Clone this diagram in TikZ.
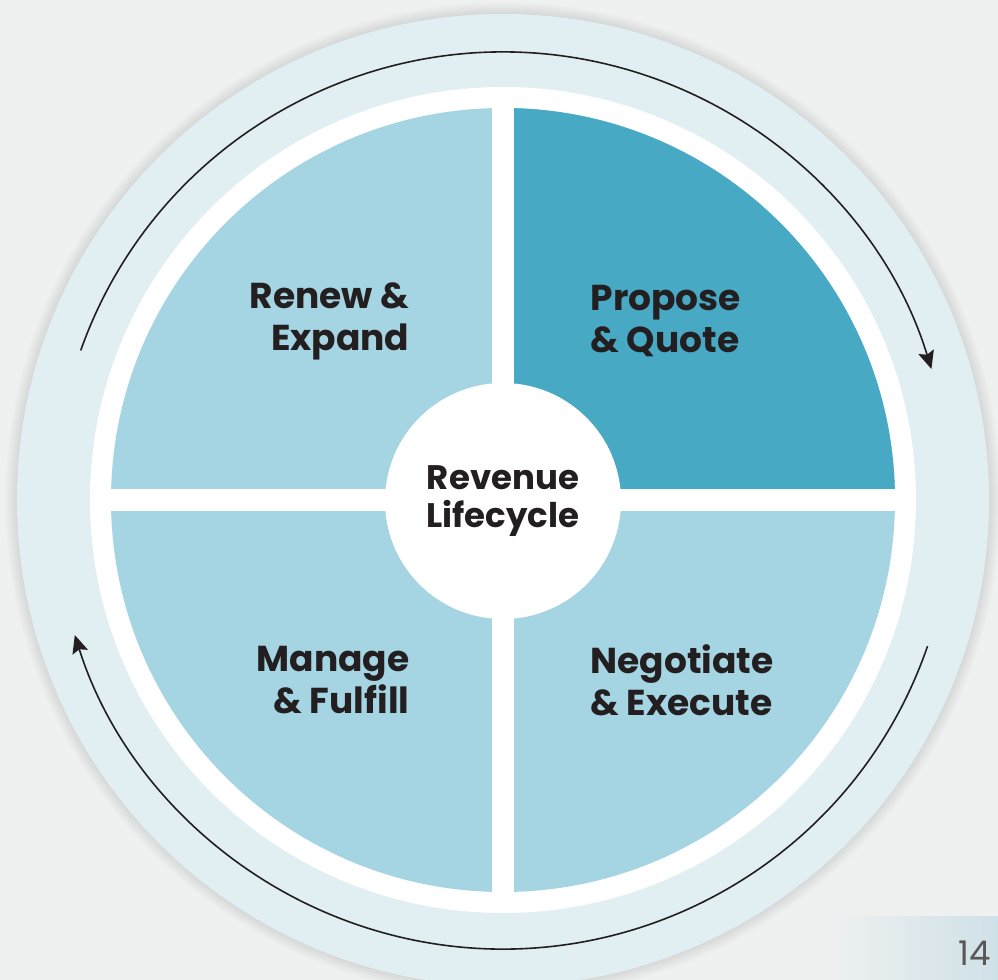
\documentclass[tikz,border=0pt]{standalone}
\usepackage{fontspec}
\setmainfont{Poppins}
\usetikzlibrary{arrows.meta,positioning}

\definecolor{pagegray}{HTML}{EFF1F0}
\definecolor{ringblue}{HTML}{E1EFF3}
\definecolor{paleblue}{HTML}{A5D4E2}
\definecolor{deepblue}{HTML}{48A9C5}
\definecolor{inkdark}{HTML}{231F20}
\definecolor{tabblue}{HTML}{CFE1E8}

\begin{document}
\begin{tikzpicture}[x=0.5pt,y=0.5pt,>={Stealth[length=9pt,width=8pt,inset=1.5pt]},semithick]
  \tikzstyle{stage}=[font=\bfseries\fontsize{18}{21}\selectfont,text=inkdark,inner sep=0pt]
  \tikzstyle{cycle arrow}=[->,line width=0.8pt,draw=inkdark]

  % Page
  \fill[pagegray] (-503,-480) rectangle (495,500);
  \useasboundingbox (-503,-480) rectangle (495,500);
  \shade[left color=pagegray,right color=tabblue] (323,-417) rectangle (495,-480);
  \node[anchor=north west,inner sep=0pt,text=inkdark!75,font=\fontsize{17}{17}\selectfont] (pageno) at (455,-440) {14};

  % Rings
  \foreach \r in {1,...,12}
    \fill[black,opacity=0.008] (0,0) circle[radius=486+\r];
  \fill[ringblue] (0,0) circle[radius=486];
  \fill[white] (0,0) circle[radius=413];
  \fill[paleblue] (0,0) circle[radius=392];
  \fill[deepblue] (0,0) -- (0:392) arc[start angle=0,end angle=90,radius=392] -- cycle;
  \fill[white] (-400,-11) rectangle (400,11);
  \fill[white] (-11,-400) rectangle (11,400);

  % Stages
  \node[circle,fill=white,minimum size=118pt,inner sep=0pt,align=center,
        font=\bfseries\fontsize{17}{19}\selectfont,text=inkdark] (hub) at (0,-1) {Revenue\\Lifecycle};
  \node[stage,anchor=east,align=right] (renew) at (-93,179) {Renew \&\\Expand};
  \node[stage,anchor=west,align=left] (propose) at (87,179) {Propose\\\& Quote};
  \node[stage,anchor=west,align=left] (negotiate) at (87,-180) {Negotiate\\\& Execute};
  \node[stage,anchor=east,align=right] (manage) at (-93,-180) {Manage\\\& Fulfill};

  % Cycle arrows
  \coordinate (topstart) at (160.5:448);
  \coordinate (botstart) at (-19:449);
  \draw[cycle arrow] (topstart) arc[start angle=160.5,end angle=17,radius=448];
  \draw[cycle arrow] (botstart) arc[start angle=-19,end angle=-162.5,radius=449];
\end{tikzpicture}
\end{document}
